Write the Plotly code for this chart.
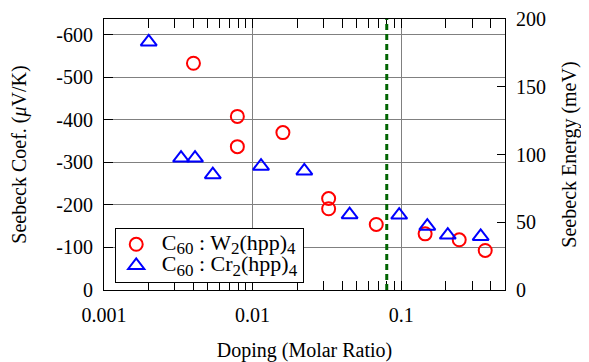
import plotly.graph_objects as go

# ---- data ----
w_doping = [0.0040, 0.0079, 0.0079, 0.016, 0.0325, 0.0325, 0.068, 0.145, 0.246, 0.368]
w_seebeck = [-533, -408, -337, -370, -215, -191, -154, -132, -118, -93]

cr_doping = [0.0020, 0.0033, 0.0041, 0.0054, 0.0114, 0.0223, 0.045, 0.097, 0.150, 0.206, 0.343]
cr_seebeck = [-583, -310, -310, -271, -291, -280, -177, -176, -150, -129, -126]

threshold_doping = 0.08

x_tickvals = [0.001, 0.01, 0.1]
x_ticktext = ["0.001", "0.01", "0.1"]
y_tickvals = [0, -100, -200, -300, -400, -500, -600]
y_ticktext = ["0", "-100", "-200", "-300", "-400", "-500", "-600"]
y2_tickvals = [0, 50, 100, 150, 200]
y2_ticktext = ["0", "50", "100", "150", "200"]

FONT = "Liberation Serif"
FS = 20


def sub(t):
    return "<sub><span style='font-size:17px'>%s</span></sub>" % t


def legend_name(metal):
    return ("<span style='font-size:22px'>\u00a0C" + sub("60") + " : " + metal + sub("2")
            + "(hpp)" + sub("4") + "</span>")


minor_vals = [m * 10 ** e for e in (-3, -2, -1) for m in range(2, 10) if m * 10 ** e <= 0.5]

fig = go.Figure()
fig.add_trace(go.Scatter(
    x=w_doping, y=w_seebeck, mode="markers",
    name=legend_name("W"),
    marker=dict(symbol="circle-open", size=13, color="#ff0000", line=dict(width=2, color="#ff0000")),
))
fig.add_trace(go.Scatter(
    x=cr_doping, y=cr_seebeck, mode="markers",
    name=legend_name("Cr"),
    marker=dict(symbol="triangle-up-open", size=14, color="#0000ff", line=dict(width=2, color="#0000ff")),
))
# empty trace to activate right axis
fig.add_trace(go.Scatter(x=[None], y=[None], yaxis="y2", showlegend=False, hoverinfo="skip"))

fig.add_shape(type="line", xref="x", yref="paper", x0=threshold_doping, x1=threshold_doping,
              y0=0, y1=1, line=dict(color="#006400", width=3, dash="6px,4px"))

# page body has an 8px margin: figure is shrunk so the plot sits where the reference has it
fig.update_layout(
    width=581, height=354,
    margin=dict(l=96, r=84, t=11, b=72),
    paper_bgcolor="white", plot_bgcolor="white",
    font=dict(family=FONT, size=FS, color="black"),
    showlegend=True,
    legend=dict(x=0.028, y=0.027, xanchor="left", yanchor="bottom",
                bordercolor="black", borderwidth=1, bgcolor="white",
                font=dict(family=FONT, size=14), tracegroupgap=0),
    xaxis=dict(
        type="log", range=[-3, -0.301], automargin=False,
        tickvals=x_tickvals, ticktext=x_ticktext,
        showgrid=True, gridcolor="#808080", gridwidth=1,
        ticks="inside", ticklen=9, tickcolor="black",
        showline=True, linecolor="black", linewidth=1, mirror="allticks",
        ticklabelstandoff=7,
        minor=dict(tickvals=minor_vals, ticks="inside", ticklen=5, tickcolor="black", showgrid=False),
        title=dict(text="Doping (Molar Ratio)", font=dict(size=FS), standoff=18),
        zeroline=False,
    ),
    yaxis=dict(
        range=[0, -637], autorange=False, automargin=False,
        tickvals=y_tickvals, ticktext=y_ticktext,
        showgrid=True, gridcolor="#808080", gridwidth=1,
        ticks="inside", ticklen=9, tickcolor="black",
        showline=True, linecolor="black", linewidth=1, mirror=True,
        ticklabelstandoff=6,
        title=dict(text="Seebeck Coef. (<i>μ</i>V/K)", font=dict(size=FS), standoff=33),
        zeroline=False,
    ),
    yaxis2=dict(
        overlaying="y", side="right", range=[0, 200], autorange=False, automargin=False,
        tickvals=y2_tickvals, ticktext=y2_ticktext,
        showgrid=False, ticks="inside", ticklen=8, tickcolor="black",
        showline=False, ticklabelstandoff=10,
        title=dict(text="Seebeck Energy (meV)", font=dict(size=FS), standoff=16),
        zeroline=False,
    ),
)

fig.write_html("out.html")
